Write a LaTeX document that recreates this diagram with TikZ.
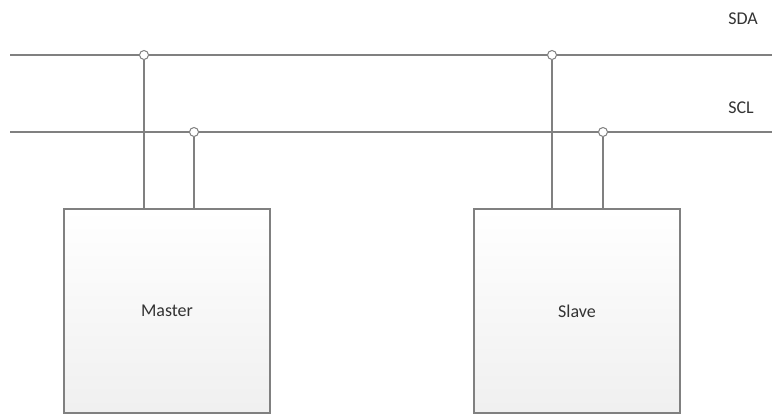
\documentclass[tikz,border=0pt]{standalone}
\usepackage{fontspec}
\setmainfont{Carlito}
\usepackage{tikz}

\definecolor{wire}{RGB}{128,128,128}
\tikzset{
  bus/.style={draw=wire,line width=1.4pt},
  tap/.style={shape=circle,draw=wire,fill=white,line width=1pt,inner sep=0pt,minimum size=9pt},
  device/.style={shape=rectangle,draw=wire,line width=1.4pt,top color=white,bottom color=gray!12,
                 minimum width=206pt,minimum height=204pt,font=\fontsize{18}{21}\selectfont,text=black!80},
  busname/.style={font=\fontsize{18}{21}\selectfont,text=black!80}
}

\begin{document}
\begin{tikzpicture}[x=1pt,y=-1pt]
                \useasboundingbox (0,0) rectangle (772,415);

                \coordinate (sdaL) at (10,55);
                \coordinate (sdaR) at (772,55);
                \coordinate (sclL) at (10,132);
                \coordinate (sclR) at (772,132);
                \path [bus] (sdaL) edge (sdaR);
                \path [bus] (sclL) edge (sclR);

                \node[busname] (SDA) at (743,19) {SDA};
                \node[busname] (SCL) at (741,108) {SCL};

                \node[device] (Master) at (167,311) {Master};
                \node[device] (Slave) at (577,311) {Slave};

                \node[tap] (mSDA) at (144,55) {};
                \node[tap] (mSCL) at (194,132) {};
                \node[tap] (sSDA) at (552,55) {};
                \node[tap] (sSCL) at (603,132) {};

                \path [bus] (mSDA) edge (mSDA |- Master.north);
                \path [bus] (mSCL) edge (mSCL |- Master.north);
                \path [bus] (sSDA) edge (sSDA |- Slave.north);
                \path [bus] (sSCL) edge (sSCL |- Slave.north);
            \end{tikzpicture}
\end{document}
